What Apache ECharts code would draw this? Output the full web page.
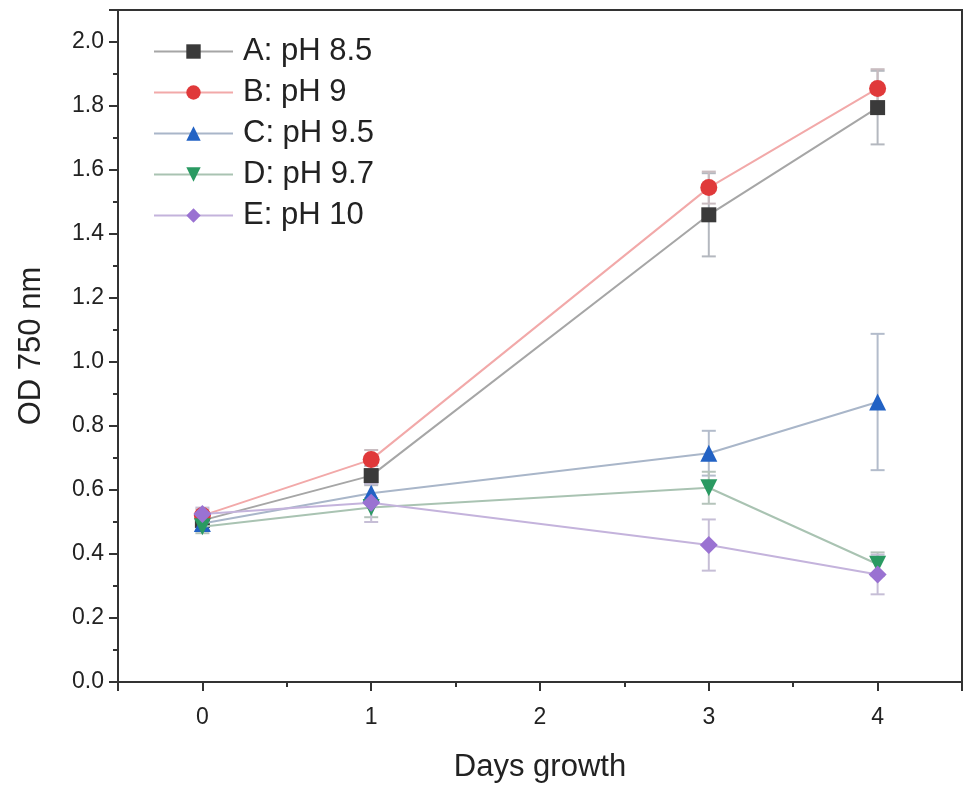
<!DOCTYPE html>
<html>
<head>
<meta charset="utf-8">
<script src="https://cdn.jsdelivr.net/npm/echarts@6/dist/echarts.min.js"></script>
<style>html,body{margin:0;padding:0;background:#fff}#c{width:969px;height:788px}</style>
</head>
<body>
<div id="c"></div>
<script>
var days = [0, 1, 3, 4];
var seriesNames = ['A: pH 8.5', 'B: pH 9', 'C: pH 9.5', 'D: pH 9.7', 'E: pH 10'];
var valuesA = [0.505, 0.645, 1.46, 1.795];
var valuesB = [0.52, 0.695, 1.545, 1.855];
var valuesC = [0.495, 0.59, 0.715, 0.875];
var valuesD = [0.485, 0.545, 0.607, 0.368];
var valuesE = [0.525, 0.56, 0.428, 0.336];
var errA = [0.02, 0.03, 0.13, 0.115];
var errB = [0.02, 0.03, 0.05, 0.06];
var errC = [0.02, 0.03, 0.07, 0.213];
var errD = [0.02, 0.03, 0.05, 0.037];
var errE = [0.02, 0.06, 0.08, 0.062];
var yTickLabels = ['0.0','0.2','0.4','0.6','0.8','1.0','1.2','1.4','1.6','1.8','2.0'];
var xTickLabels = ['0','1','2','3','4'];

var allValues = [valuesA, valuesB, valuesC, valuesD, valuesE];
var allErr = [errA, errB, errC, errD, errE];
var markerColors = ['#3a3a3a', '#e0393a', '#2262c4', '#2a9a62', '#9a72d2'];
var lineColors = ['#a6a6a6', '#f2a9a9', '#a9b6c9', '#a9c3b2', '#c4b3dc'];
var errColors = ['#b4b8bf', '#c9bcc0', '#b3bccb', '#b5c4bb', '#c6bed6'];
var symbols = ['rect', 'circle', 'triangle', 'path://M0,0 L10,0 L5,9 Z', 'diamond'];
var symbolSizes = [15, 17, 17, 17, 18];

var chart = echarts.init(document.getElementById('c'), null, {renderer: 'canvas'});
var FONT = 'Liberation Sans';

function errRender(color) {
  return function (params, api) {
    var x = api.value(0), lo = api.value(1), hi = api.value(2);
    var p1 = api.coord([x, lo]), p2 = api.coord([x, hi]);
    var w = 7;
    var st = {stroke: color, lineWidth: 2, fill: null};
    return {type: 'group', children: [
      {type: 'line', shape: {x1: p1[0], y1: p1[1], x2: p2[0], y2: p2[1]}, style: st},
      {type: 'line', shape: {x1: p1[0] - w, y1: p1[1], x2: p1[0] + w, y2: p1[1]}, style: st},
      {type: 'line', shape: {x1: p2[0] - w, y1: p2[1], x2: p2[0] + w, y2: p2[1]}, style: st}
    ]};
  };
}

var series = [];
for (var i = 0; i < 5; i++) {
  var ed = [];
  for (var j = 0; j < days.length; j++) {
    ed.push([days[j], allValues[i][j] - allErr[i][j], allValues[i][j] + allErr[i][j]]);
  }
  series.push({
    type: 'custom', name: 'err' + i, xAxisIndex: 0, yAxisIndex: 0, z: 1,
    renderItem: errRender(errColors[i]), data: ed, silent: true
  });
}
for (var i = 0; i < 5; i++) {
  var d = [];
  for (var j = 0; j < days.length; j++) d.push([days[j], allValues[i][j]]);
  series.push({
    type: 'line', name: seriesNames[i], xAxisIndex: 0, yAxisIndex: 0, z: 3 + i,
    data: d, symbol: symbols[i], symbolSize: symbolSizes[i], showAllSymbol: true,
    lineStyle: {color: lineColors[i], width: 2},
    itemStyle: {color: markerColors[i], borderWidth: 0},
    animation: false
  });
}

var axisLineStyle = {color: '#333', width: 2};
var option = {
  animation: false,
  backgroundColor: '#fff',
  grid: {left: 118, right: 7, top: 10, bottom: 105, show: true, borderColor: '#333', borderWidth: 2, containLabel: false},
  legend: {
    data: seriesNames, orient: 'vertical', left: 148, top: 31, itemWidth: 79, itemHeight: 18, itemGap: 10,
    textStyle: {fontFamily: FONT, fontSize: 31, color: '#222', padding: [0, 0, 0, 5]}
  },
  xAxis: [
    {type: 'value', min: -0.5, max: 4.5, interval: 0.5, position: 'bottom',
      axisLine: {show: true, onZero: false, lineStyle: axisLineStyle},
      axisTick: {show: true, inside: false, length: 5, lineStyle: {color: '#333', width: 2}},
      splitLine: {show: false},
      axisLabel: {margin: 24, fontFamily: FONT, fontSize: 23, color: '#222',
        formatter: function (v) { var k = xTickLabels.indexOf(String(v)); return k >= 0 ? xTickLabels[k] : ''; }},
      name: 'Days growth', nameLocation: 'middle', nameGap: 70,
      nameTextStyle: {fontFamily: FONT, fontSize: 31, color: '#222'}
    },
    {type: 'value', min: -0.5, max: 4.5, position: 'bottom', splitNumber: 5,
      axisLine: {show: false, onZero: false},
      axisTick: {show: true, inside: false, length: 9, lineStyle: {color: '#333', width: 2}},
      splitLine: {show: false}, axisLabel: {show: false}
    }
  ],
  yAxis: [
    {type: 'value', min: 0, max: 2.1, interval: 0.1, position: 'left',
      axisLine: {show: true, onZero: false, lineStyle: axisLineStyle},
      axisTick: {show: true, inside: false, length: 5, lineStyle: {color: '#333', width: 2}},
      splitLine: {show: false},
      axisLabel: {margin: 14, fontFamily: FONT, fontSize: 23, color: '#222',
        formatter: function (v) { var s = v.toFixed(1); return yTickLabels.indexOf(s) >= 0 && Math.abs(v * 5 - Math.round(v * 5)) < 1e-6 ? s : ''; }},
      name: 'OD 750 nm', nameLocation: 'middle', nameGap: 71,
      nameTextStyle: {fontFamily: FONT, fontSize: 31, color: '#222'}
    },
    {type: 'value', min: 0, max: 2.1, interval: 0.2, position: 'left',
      axisLine: {show: false, onZero: false},
      axisTick: {show: true, inside: false, length: 9, lineStyle: {color: '#333', width: 2}},
      splitLine: {show: false}, axisLabel: {show: false}
    }
  ],
  series: series
};
chart.setOption(option);
</script>
</body>
</html>
